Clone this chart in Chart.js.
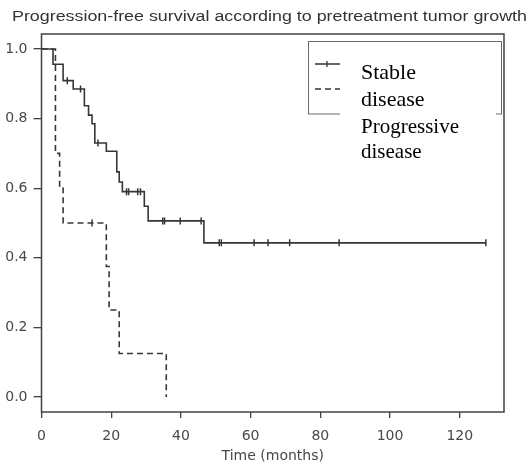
<!DOCTYPE html>
<html>
<head>
<meta charset="utf-8">
<script src="https://cdn.jsdelivr.net/npm/chart.js@4/dist/chart.umd.min.js"></script>
<style>
  html, body { margin: 0; padding: 0; background: #ffffff; }
  #wrap { width: 529px; height: 468px; }
</style>
</head>
<body>
<div id="wrap"><canvas id="km" width="529" height="468"></canvas></div>
<script>
// Kaplan-Meier progression-free survival, by pretreatment tumor growth
const chartTitle = 'Progression-free survival according to pretreatment tumor growth';
const xAxisTitle = 'Time (months)';
const seriesNames = ['Stable disease', 'Progressive disease'];

// Stable disease: event times (months) and survival after each step
const stableTime = [0, 3.3, 6.2, 9.1, 12.3, 13.5, 14.5, 15.3, 18.6, 21.6, 22.3, 23.2, 29.5, 30.6, 46.6, 127.5];
const stableSurv = [1.0, 0.956, 0.909, 0.885, 0.837, 0.81, 0.785, 0.73, 0.706, 0.647, 0.618, 0.59, 0.548, 0.506, 0.443, 0.443];
// Stable disease: censored observations
const stableCensorTime = [7.4, 11.2, 16.2, 24.4, 25.0, 27.6, 28.4, 34.8, 35.3, 39.8, 45.8, 51.0, 51.6, 61.0, 65.0, 71.2, 85.4, 127.5];
const stableCensorSurv = [0.909, 0.885, 0.73, 0.59, 0.59, 0.59, 0.59, 0.506, 0.506, 0.506, 0.506, 0.443, 0.443, 0.443, 0.443, 0.443, 0.443, 0.443];

// Progressive disease
const progTime = [0, 4.0, 5.2, 6.2, 18.6, 19.4, 22.3, 35.8];
const progSurv = [1.0, 0.7, 0.6, 0.5, 0.375, 0.25, 0.125, 0.0];
const progCensorTime = [14.5];
const progCensorSurv = [0.5];

// Axis ticks
const xTicks = [0, 20, 40, 60, 80, 100, 120];
const yTicks = [0.0, 0.2, 0.4, 0.6, 0.8, 1.0];

const INK = '#363636';
const FRAME = '#424242';
const LABEL = '#484848';

function pts(xs, ys) { return xs.map((x, i) => ({ x: x, y: ys[i] })); }

// Box round the plotting region, title, and the legend panel
const decor = {
  id: 'decor',
  beforeDatasetsDraw(chart) {
    const { ctx, chartArea: a } = chart;
    ctx.save();
    ctx.strokeStyle = FRAME;
    ctx.lineWidth = 1.5;
    ctx.strokeRect(a.left, a.top, a.right - a.left, a.bottom - a.top);
    ctx.restore();
  },
  afterDraw(chart) {
    const { ctx } = chart;
    ctx.save();
    // title, stretched to its printed width
    ctx.font = '14px "Liberation Sans", Arial, sans-serif';
    ctx.fillStyle = '#333333';
    ctx.textBaseline = 'alphabetic';
    const w = ctx.measureText(chartTitle).width;
    const target = 515;
    ctx.translate(12, 20.5);
    ctx.scale(target / w, 1);
    ctx.fillText(chartTitle, 0, 0);
    ctx.restore();

    // legend panel
    ctx.save();
    ctx.strokeStyle = '#6a6a6a';
    ctx.lineWidth = 1;
    ctx.strokeRect(308.5, 41.5, 193, 72.5);
    ctx.strokeStyle = INK;
    ctx.lineWidth = 1.3;
    ctx.beginPath();
    ctx.moveTo(315, 64); ctx.lineTo(340, 64);
    ctx.moveTo(327, 61); ctx.lineTo(327, 67);
    ctx.stroke();
    ctx.setLineDash([6, 4]);
    ctx.beginPath();
    ctx.moveTo(315, 89); ctx.lineTo(340, 89);
    ctx.stroke();
    ctx.setLineDash([]);
    // label block
    ctx.fillStyle = '#ffffff';
    ctx.fillRect(340, 50, 156, 120);
    ctx.fillStyle = '#000000';
    ctx.font = '22px "Liberation Serif", "Times New Roman", serif';
    ctx.textAlign = 'left';
    ctx.textBaseline = 'alphabetic';
    const sd = seriesNames[0].split(' ');
    const pd = seriesNames[1].split(' ');
    ctx.fillText(sd[0], 361, 79);
    ctx.fillText(sd[1], 361, 106);
    ctx.font = '21px "Liberation Serif", "Times New Roman", serif';
    ctx.fillText(pd[0], 361, 133);
    ctx.fillText(pd[1], 361, 158);
    ctx.restore();
  }
};

new Chart(document.getElementById('km'), {
  type: 'scatter',
  data: {
    datasets: [
      {
        label: seriesNames[0],
        data: pts(stableTime, stableSurv),
        showLine: true,
        stepped: 'before',
        borderColor: INK,
        borderWidth: 1.6,
        pointRadius: 0,
        fill: false
      },
      {
        label: seriesNames[1],
        data: pts(progTime, progSurv),
        showLine: true,
        stepped: 'before',
        borderColor: INK,
        borderWidth: 1.6,
        borderDash: [6, 4],
        pointRadius: 0,
        fill: false
      },
      {
        label: seriesNames[0] + ' (censored)',
        data: pts(stableCensorTime, stableCensorSurv),
        showLine: false,
        pointStyle: 'line',
        rotation: 90,
        pointRadius: 3.5,
        borderColor: INK,
        borderWidth: 1.5
      },
      {
        label: seriesNames[1] + ' (censored)',
        data: pts(progCensorTime, progCensorSurv),
        showLine: false,
        pointStyle: 'line',
        rotation: 90,
        pointRadius: 3.5,
        borderColor: INK,
        borderWidth: 1.5
      }
    ]
  },
  options: {
    responsive: false,
    animation: false,
    devicePixelRatio: 1,
    layout: { padding: { top: 34, right: 25, left: 0, bottom: 0 } },
    plugins: {
      legend: { display: false },
      title: { display: false },
      tooltip: { enabled: false }
    },
    scales: {
      x: {
        type: 'linear',
        min: 0,
        max: 132.7,
        afterFit(s) { s.height = 56; },
        afterBuildTicks(s) { s.ticks = xTicks.map(v => ({ value: v })); },
        border: { display: false },
        grid: { drawOnChartArea: false, drawTicks: true, tickLength: 6, color: FRAME, lineWidth: 1.3 },
        ticks: {
          padding: 10,
          color: LABEL,
          font: { family: '"DejaVu Sans", sans-serif', size: 14 },
          maxRotation: 0,
          callback: v => String(v)
        },
        title: {
          display: true,
          text: xAxisTitle,
          color: LABEL,
          font: { family: '"DejaVu Sans", sans-serif', size: 14 },
          padding: { top: 0, bottom: 3 }
        }
      },
      y: {
        type: 'linear',
        min: -0.043,
        max: 1.043,
        afterFit(s) { s.width = 41.5; },
        afterBuildTicks(s) { s.ticks = yTicks.map(v => ({ value: v })); },
        border: { display: false },
        grid: { drawOnChartArea: false, drawTicks: true, tickLength: 8, color: FRAME, lineWidth: 1.3 },
        ticks: {
          padding: 6,
          color: LABEL,
          font: { family: '"DejaVu Sans", sans-serif', size: 14 },
          callback: v => Number(v).toFixed(1)
        }
      }
    }
  },
  plugins: [decor]
});
</script>
</body>
</html>
